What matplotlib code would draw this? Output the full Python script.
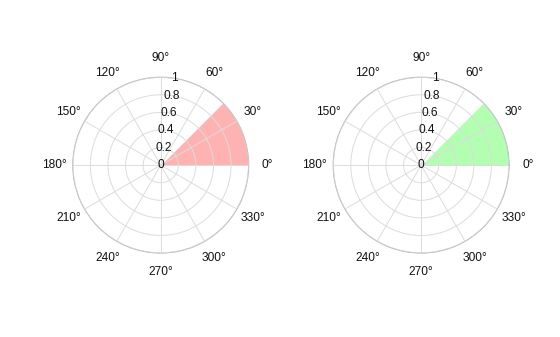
import numpy as np
import matplotlib
matplotlib.use("Agg")
import matplotlib.pyplot as plt

plt.rcParams['font.family'] = ['Liberation Sans', 'DejaVu Sans']

# wedge data (degrees / radius)
theta_start = [0, 0]
theta_end = [45, 45]
radius = [1, 1]
colours = ['#ff0000', '#00ff00']

r_ticks = [0, 0.2, 0.4, 0.6, 0.8, 1]
r_labels = ['0', '0.2', '0.4', '0.6', '0.8', '1']
ang_ticks = list(range(0, 360, 30))

fig = plt.figure(figsize=(5.6, 3.37), dpi=100)
positions = [[0.130, 0.249, 0.314, 0.522], [0.595, 0.249, 0.314, 0.522]]

for i, pos in enumerate(positions):
    ax = fig.add_axes(pos, projection='polar')
    # smooth arc for the sector
    th = np.deg2rad(np.linspace(theta_start[i], theta_end[i], 100))
    ax.fill_between(th, 0, radius[i], color=colours[i], alpha=0.3,
                    linewidth=0, zorder=1)
    ax.set_ylim(0, 1)
    ax.set_yticks(r_ticks)
    ax.set_yticklabels(r_labels, fontsize=8.6, color='#111111', ha='center', va='center')
    ax.set_rlabel_position(81)
    ax.set_xticks(np.deg2rad(ang_ticks))
    ax.set_xticklabels([f"{a}°" for a in ang_ticks], fontsize=8.6, color='#111111')
    ax.tick_params(axis='x', pad=3)
    ax.grid(True, color='#dcdcdc', linewidth=0.7, zorder=2)
    ax.set_axisbelow(False)
    ax.spines['polar'].set_color('#b5b5b5')
    ax.spines['polar'].set_linewidth(0.8)

plt.savefig('out.png', dpi=100)
